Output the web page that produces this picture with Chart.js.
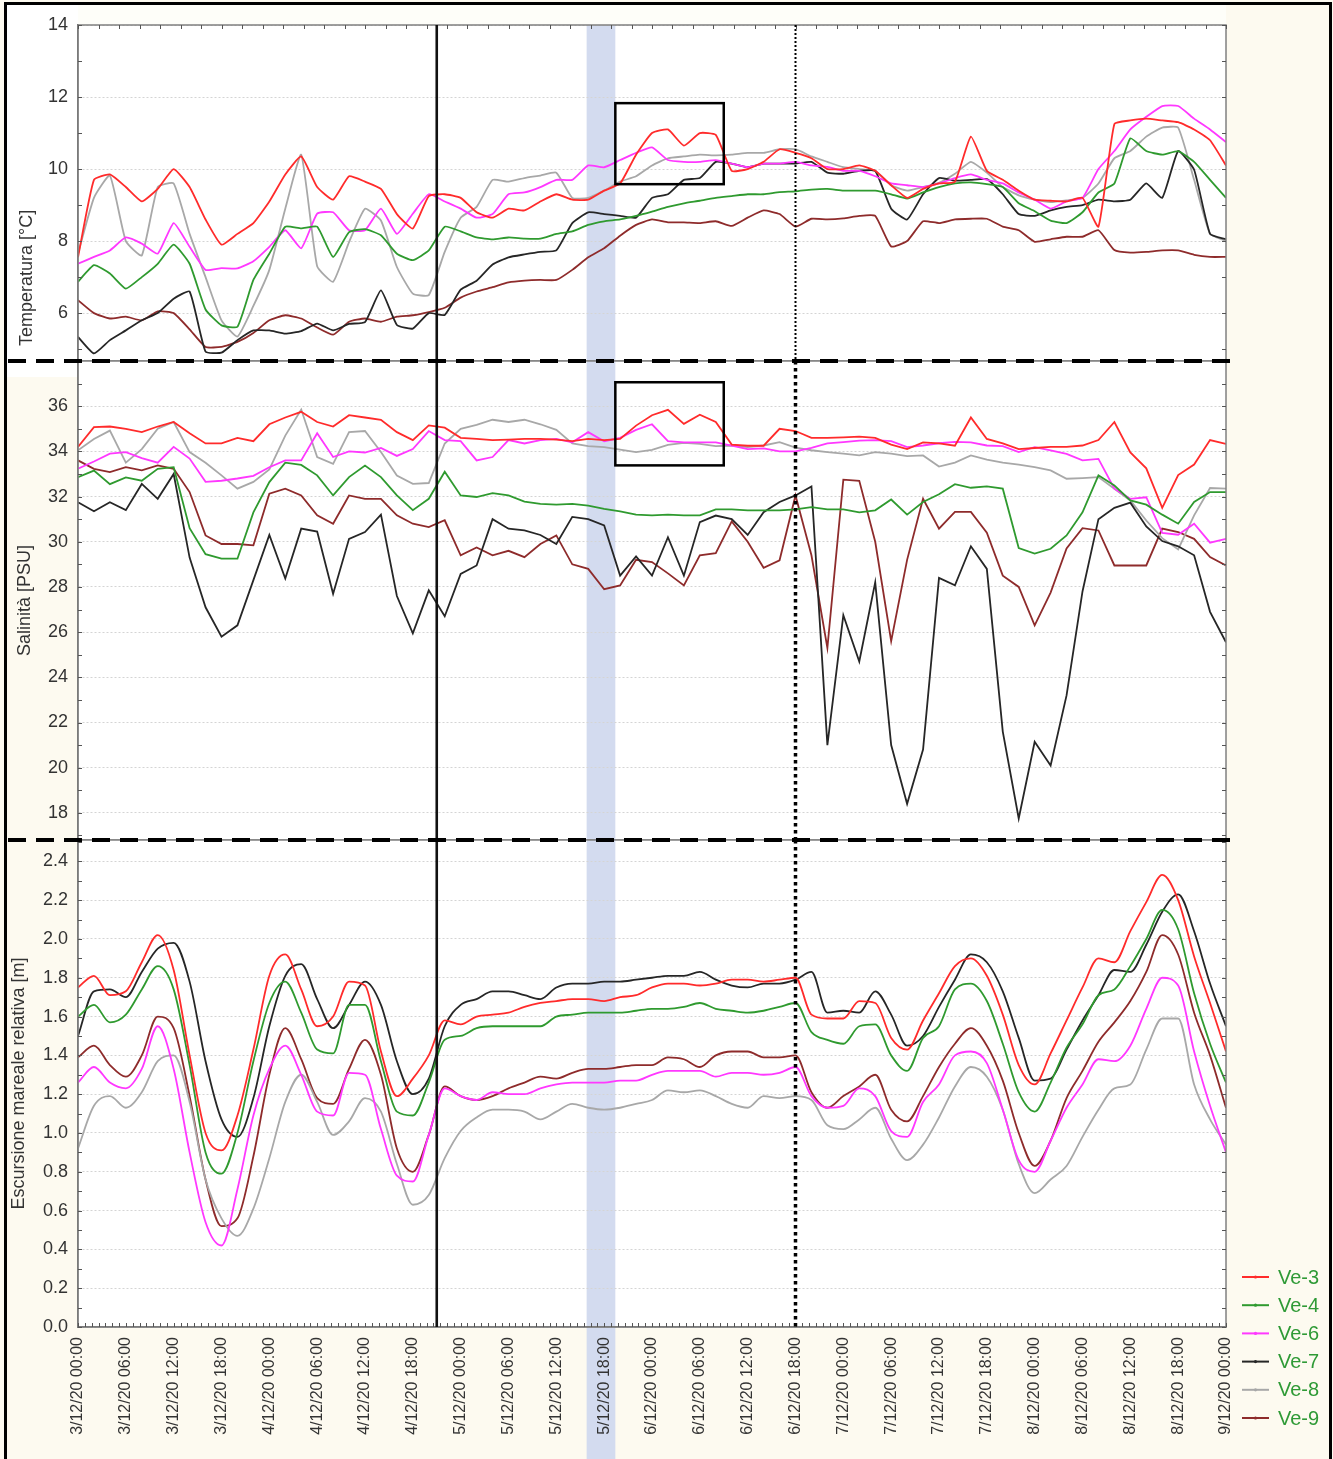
<!DOCTYPE html>
<html lang="it">
<head>
<meta charset="utf-8">
<title>Temperatura, salinità ed escursione mareale – Ve-3 … Ve-9</title>
<script src="https://cdn.jsdelivr.net/npm/chart.js@4.4.1/dist/chart.umd.min.js"></script>
<style>
  html, body { margin: 0; padding: 0; background: #fdfaf0; }
  #wrap { position: relative; width: 1333px; height: 1459px; overflow: hidden; background: #fdfaf0; }
  #wrap canvas { position: absolute; left: 0; top: 0; }
  #frame { position: absolute; left: 4px; top: 2px; width: 1322px; height: 1470px; border: 3px solid #000; pointer-events: none; }
</style>
</head>
<body>
<div id="wrap">
  <canvas id="cTemp" width="1333" height="1459"></canvas>
  <canvas id="cSal" width="1333" height="1459"></canvas>
  <canvas id="cTide" width="1333" height="1459"></canvas>
  <div id="frame"></div>
</div>
<script>
// ---- time axis: hours since 3/12/20 00:00 ----
const hours = [0,2,4,6,8,10,12,14,16,18,20,22,24,26,28,30,32,34,36,38,40,42,44,46,
  48,50,52,54,56,58,60,62,64,66,68,70,72,74,76,78,80,82,84,86,88,90,92,94,
  96,98,100,102,104,106,108,110,112,114,116,118,120,122,124,126,128,130,132,134,136,138,140,142,144];

const stations = ['Ve-3', 'Ve-4', 'Ve-6', 'Ve-7', 'Ve-8', 'Ve-9'];
const stationColors = ['#ff2b2b', '#2f9a2f', '#ff38ff', '#262626', '#a8a8a8', '#8e2b2b'];

// ---- Temperatura [°C] ----
const tempVe3 = [7.55,9.7,9.85,9.5,9.1,9.45,10.0,9.5,8.6,7.9,8.2,8.5,9.1,9.85,10.35,9.5,9.15,9.8,9.65,9.45,8.75,8.35,9.25,9.3,
  9.2,8.8,8.65,8.9,8.85,9.1,9.3,9.15,9.15,9.4,9.6,10.4,11.0,11.1,10.65,11.0,10.95,9.95,10.0,10.2,10.55,10.45,10.3,10.0,
  10.0,10.1,9.95,9.55,9.2,9.45,9.6,9.65,10.9,9.95,9.7,9.4,9.15,9.12,9.1,9.2,8.4,11.25,11.35,11.4,11.35,11.3,11.1,10.8,10.1];
const tempVe4 = [6.87,7.33,7.1,6.68,7.0,7.37,7.9,7.37,6.1,5.66,5.62,6.92,7.65,8.4,8.35,8.4,7.56,8.25,8.33,8.16,7.65,7.47,7.74,8.4,
  8.27,8.1,8.05,8.1,8.07,8.07,8.2,8.27,8.45,8.55,8.6,8.7,8.82,8.95,9.05,9.12,9.2,9.25,9.3,9.3,9.36,9.38,9.43,9.45,
  9.4,9.4,9.4,9.3,9.18,9.35,9.5,9.6,9.63,9.58,9.5,9.05,8.83,8.57,8.5,8.8,9.35,9.6,10.85,10.5,10.4,10.5,10.2,9.7,9.2];
const tempVe6 = [7.37,7.56,7.74,8.1,7.93,7.65,8.5,7.84,7.2,7.25,7.24,7.44,7.84,8.3,7.8,8.76,8.8,8.3,8.3,8.9,8.2,8.76,9.3,9.1,
  8.9,8.65,8.75,9.3,9.35,9.5,9.7,9.7,10.1,10.05,10.25,10.45,10.6,10.25,10.2,10.2,10.25,10.15,10.05,10.15,10.15,10.2,10.1,10.06,
  9.95,9.95,9.8,9.6,9.55,9.5,9.6,9.75,9.85,9.7,9.6,9.35,9.15,8.9,9.1,9.2,10.0,10.5,11.1,11.45,11.75,11.75,11.4,11.1,10.75];
const tempVe7 = [5.34,4.88,5.25,5.52,5.8,6.0,6.4,6.6,4.93,4.9,5.25,5.52,5.52,5.43,5.5,5.71,5.52,5.7,5.75,6.63,5.67,5.57,6.0,5.95,
  6.65,6.9,7.35,7.55,7.63,7.7,7.74,8.5,8.8,8.75,8.7,8.65,9.2,9.3,9.7,9.75,10.2,10.15,10.05,10.15,10.15,10.15,10.2,9.9,
  9.87,9.95,9.95,8.9,8.6,9.3,9.75,9.68,9.7,9.72,9.3,8.75,8.7,8.85,8.95,9.0,9.15,9.1,9.15,9.6,9.2,10.5,9.98,8.2,8.05];
const tempVe8 = [7.65,9.2,9.82,8.0,7.6,9.5,9.6,8.2,7.0,5.8,5.35,6.2,7.2,8.9,10.4,7.3,6.87,7.97,8.9,8.57,7.28,6.54,6.5,7.7,
  8.65,8.95,9.7,9.65,9.75,9.82,9.9,9.2,9.2,9.4,9.65,9.8,10.1,10.3,10.35,10.4,10.38,10.4,10.45,10.45,10.55,10.55,10.35,10.2,
  10.05,10.0,9.95,9.55,9.4,9.5,9.62,9.87,10.2,9.9,9.5,9.27,9.15,9.08,9.13,9.2,9.6,10.3,10.5,10.9,11.15,11.15,9.7,8.2,8.0];
const tempVe9 = [6.36,6.0,5.85,5.9,5.8,6.05,6.0,5.55,5.06,5.06,5.2,5.45,5.8,5.94,5.85,5.6,5.4,5.76,5.85,5.76,5.9,5.94,6.03,6.15,
  6.43,6.6,6.72,6.85,6.9,6.92,6.92,7.2,7.55,7.8,8.15,8.45,8.6,8.52,8.52,8.5,8.55,8.42,8.65,8.85,8.75,8.4,8.62,8.6,
  8.63,8.7,8.7,7.85,8.0,8.55,8.5,8.6,8.62,8.62,8.4,8.3,7.98,8.05,8.12,8.12,8.3,7.75,7.68,7.7,7.74,7.74,7.62,7.56,7.56];

// ---- Salinità [PSU] ----
const salVe3 = [34.2,35.07,35.1,35.0,34.85,35.1,35.3,34.8,34.35,34.35,34.6,34.45,35.2,35.5,35.75,35.3,35.1,35.6,35.5,35.4,34.85,34.5,35.15,35.05,
  34.6,34.55,34.5,34.52,34.55,34.55,34.52,34.45,34.55,34.5,34.55,35.14,35.6,35.84,35.22,35.62,35.3,34.3,34.25,34.25,35.0,34.9,34.6,34.6,
  34.62,34.65,34.6,34.3,34.1,34.4,34.35,34.25,35.5,34.55,34.35,34.1,34.15,34.2,34.2,34.26,34.5,35.3,33.95,33.25,31.5,32.95,33.42,34.5,34.33];
const salVe4 = [32.86,33.15,32.55,32.85,32.7,33.23,33.3,30.6,29.45,29.25,29.25,31.3,32.64,33.5,33.4,32.94,32.05,32.86,33.37,32.86,32.05,31.4,31.9,33.1,
  32.05,31.98,32.15,32.05,31.78,31.68,31.64,31.68,31.6,31.46,31.34,31.2,31.17,31.2,31.17,31.17,31.43,31.43,31.39,31.39,31.39,31.43,31.53,31.43,
  31.43,31.3,31.39,31.87,31.2,31.76,32.1,32.55,32.39,32.45,32.35,29.72,29.48,29.69,30.28,31.3,32.94,32.49,31.83,31.64,31.2,30.8,31.76,32.2,32.2];
const salVe6 = [33.23,33.55,33.9,33.97,33.7,33.5,34.2,33.68,32.65,32.7,32.8,32.92,33.3,33.6,33.6,34.8,33.75,34.0,33.95,34.15,33.8,34.1,34.9,34.5,
  34.45,33.6,33.75,34.5,34.35,34.5,34.55,34.4,34.85,34.45,34.6,34.95,35.2,34.45,34.4,34.4,34.4,34.25,34.1,34.13,34.0,34.0,34.15,34.35,
  34.41,34.48,34.5,34.45,34.19,34.26,34.36,34.42,34.4,34.26,34.23,33.97,34.19,34.04,33.89,33.6,33.67,32.35,31.9,31.97,30.39,30.31,30.8,29.96,30.13];
const salVe7 = [31.75,31.35,31.75,31.4,32.56,31.9,33.0,29.3,27.1,25.8,26.3,28.3,30.3,28.37,30.58,30.45,27.7,30.13,30.43,31.2,27.6,25.95,27.85,26.7,
  28.58,28.95,31.0,30.58,30.5,30.3,29.9,31.1,31.0,30.72,28.5,29.35,28.5,30.2,28.5,30.87,31.16,31.0,30.3,31.31,31.76,32.05,32.45,21.0,
  26.75,24.7,28.2,21.0,18.4,20.8,28.4,28.07,29.8,28.8,21.6,17.75,21.15,20.1,23.2,27.8,31.0,31.5,31.73,30.68,30.03,29.8,29.4,26.9,25.55];
const salVe8 = [34.05,34.55,34.92,33.5,34.1,35.0,35.3,33.97,33.5,32.94,32.35,32.65,33.2,34.7,35.85,33.75,33.45,34.85,34.9,33.97,32.93,32.56,32.6,34.35,
  35.0,35.17,35.4,35.3,35.4,35.2,34.95,34.35,34.23,34.19,34.08,33.97,34.07,34.29,34.38,34.33,34.23,34.26,34.19,34.26,34.41,34.17,34.05,33.97,
  33.9,33.82,33.97,33.9,33.79,33.82,33.33,33.5,33.82,33.64,33.5,33.41,33.3,33.16,32.79,32.82,32.86,32.35,31.83,30.94,30.16,29.66,31.17,32.38,32.35];
const salVe9 = [33.6,33.23,33.08,33.3,33.16,33.38,33.23,32.2,30.28,29.9,29.9,29.84,32.13,32.35,32.05,31.17,30.8,32.05,31.9,31.9,31.17,30.8,30.65,30.95,
  29.4,29.75,29.4,29.6,29.32,29.9,30.28,29.0,28.8,27.9,28.07,29.2,29.1,28.6,28.07,29.4,29.5,30.9,30.0,28.85,29.18,32.05,29.4,25.3,
  32.75,32.7,30.0,25.6,29.2,31.9,30.58,31.32,31.32,30.4,28.5,28.0,26.3,27.75,29.7,30.6,30.5,28.95,28.95,28.95,30.58,30.43,30.13,29.32,28.95];

// ---- Escursione mareale relativa [m] ----
const tideVe3 = [1.75,1.81,1.71,1.73,1.88,2.02,1.84,1.4,1.0,0.91,1.09,1.43,1.81,1.92,1.74,1.55,1.6,1.78,1.76,1.42,1.19,1.28,1.4,1.58,
  1.56,1.6,1.61,1.62,1.65,1.67,1.68,1.69,1.69,1.68,1.7,1.71,1.75,1.77,1.77,1.76,1.77,1.79,1.79,1.78,1.79,1.8,1.61,1.59,
  1.59,1.68,1.67,1.49,1.43,1.58,1.72,1.86,1.9,1.81,1.61,1.35,1.25,1.41,1.58,1.75,1.9,1.88,2.04,2.19,2.33,2.2,1.91,1.67,1.42];
const tideVe4 = [1.6,1.66,1.57,1.61,1.74,1.86,1.74,1.35,0.9,0.79,1.0,1.37,1.67,1.78,1.62,1.43,1.41,1.66,1.66,1.37,1.11,1.09,1.26,1.48,
  1.5,1.54,1.55,1.55,1.55,1.55,1.6,1.61,1.62,1.62,1.62,1.63,1.64,1.64,1.65,1.67,1.64,1.63,1.62,1.63,1.65,1.67,1.52,1.48,
  1.46,1.55,1.56,1.4,1.32,1.49,1.55,1.74,1.77,1.68,1.46,1.21,1.11,1.26,1.44,1.56,1.71,1.74,1.86,2.0,2.15,2.05,1.72,1.46,1.26];
const tideVe6 = [1.26,1.34,1.26,1.23,1.33,1.55,1.33,0.9,0.54,0.42,0.71,1.09,1.33,1.45,1.3,1.11,1.09,1.31,1.3,1.02,0.78,0.75,0.99,1.23,
  1.19,1.17,1.21,1.2,1.2,1.23,1.25,1.26,1.26,1.26,1.27,1.27,1.3,1.32,1.32,1.32,1.29,1.31,1.31,1.3,1.31,1.34,1.19,1.13,
  1.14,1.23,1.19,1.01,0.98,1.16,1.25,1.4,1.42,1.36,1.12,0.86,0.8,0.96,1.13,1.25,1.38,1.37,1.45,1.64,1.8,1.76,1.42,1.14,0.9];
const tideVe7 = [1.5,1.73,1.74,1.7,1.83,1.95,1.98,1.78,1.37,1.07,0.98,1.18,1.55,1.81,1.87,1.69,1.54,1.66,1.78,1.66,1.37,1.2,1.28,1.55,
  1.66,1.69,1.73,1.73,1.71,1.69,1.75,1.77,1.77,1.78,1.78,1.79,1.8,1.81,1.81,1.83,1.79,1.76,1.75,1.77,1.77,1.79,1.83,1.62,
  1.63,1.62,1.73,1.61,1.45,1.5,1.65,1.79,1.92,1.88,1.73,1.49,1.27,1.28,1.43,1.58,1.71,1.84,1.83,1.97,2.14,2.23,2.04,1.77,1.55];
const tideVe8 = [0.92,1.14,1.19,1.13,1.21,1.37,1.4,1.16,0.76,0.56,0.47,0.61,0.87,1.16,1.3,1.16,0.99,1.06,1.18,1.11,0.84,0.63,0.68,0.87,
  1.01,1.08,1.12,1.12,1.11,1.07,1.11,1.15,1.13,1.12,1.13,1.15,1.17,1.22,1.21,1.22,1.19,1.15,1.13,1.19,1.18,1.19,1.17,1.04,
  1.02,1.07,1.13,0.97,0.86,0.94,1.08,1.24,1.34,1.29,1.12,0.84,0.69,0.76,0.83,0.98,1.12,1.23,1.25,1.43,1.59,1.59,1.25,1.07,0.94];
const tideVe9 = [1.39,1.45,1.35,1.29,1.4,1.6,1.54,1.19,0.76,0.52,0.56,0.88,1.3,1.54,1.38,1.18,1.15,1.33,1.48,1.3,0.92,0.8,0.99,1.24,
  1.19,1.17,1.19,1.23,1.26,1.29,1.28,1.31,1.33,1.33,1.34,1.35,1.35,1.39,1.38,1.34,1.4,1.42,1.42,1.39,1.39,1.4,1.21,1.13,
  1.19,1.24,1.3,1.12,1.06,1.19,1.34,1.46,1.54,1.45,1.27,1.0,0.83,0.96,1.18,1.32,1.47,1.57,1.68,1.83,2.02,1.92,1.62,1.4,1.13];

// ---- axis ticks ----
const xTickHours = [0,6,12,18,24,30,36,42,48,54,60,66,72,78,84,90,96,102,108,114,120,126,132,138,144];
const xTickLabels = ['3/12/20 00:00','3/12/20 06:00','3/12/20 12:00','3/12/20 18:00',
  '4/12/20 00:00','4/12/20 06:00','4/12/20 12:00','4/12/20 18:00',
  '5/12/20 00:00','5/12/20 06:00','5/12/20 12:00','5/12/20 18:00',
  '6/12/20 00:00','6/12/20 06:00','6/12/20 12:00','6/12/20 18:00',
  '7/12/20 00:00','7/12/20 06:00','7/12/20 12:00','7/12/20 18:00',
  '8/12/20 00:00','8/12/20 06:00','8/12/20 12:00','8/12/20 18:00','9/12/20 00:00'];
const tempTicks = [6, 8, 10, 12, 14];
const salTicks = [18, 20, 22, 24, 26, 28, 30, 32, 34, 36];
const tideTicks = [0, 0.2, 0.4, 0.6, 0.8, 1.0, 1.2, 1.4, 1.6, 1.8, 2.0, 2.2, 2.4];

// ---- event markers (hours) ----
const eventHours = [45, 90];          // solid line, dotted line
const bandHours = [63.8, 67.4];       // shaded interval
const tempBox = [67.4, 81.0, 9.58, 11.83];   // h0, h1, y0, y1
const salBox = [67.4, 81.0, 33.38, 37.06];

Chart.defaults.font.family = "'Liberation Sans', Arial, Helvetica, sans-serif";
Chart.defaults.color = '#333';

function seg(ctx, x0, y0, x1, y1) { ctx.beginPath(); ctx.moveTo(x0, y0); ctx.lineTo(x1, y1); ctx.stroke(); }

const panelDecor = {
  id: 'panelDecor',
  beforeDraw(chart, _args, o) {
    const { ctx, chartArea: a, scales: { x } } = chart;
    ctx.save();
    (o.fills || []).forEach(f => { ctx.fillStyle = f.c; ctx.fillRect(f.r[0], f.r[1], f.r[2], f.r[3]); });
    ctx.fillStyle = '#ffffff';
    ctx.fillRect(a.left, a.top, a.right - a.left, a.bottom - a.top);
    const b0 = x.getPixelForValue(bandHours[0]), b1 = x.getPixelForValue(bandHours[1]);
    const bBottom = o.bandToEdge ? chart.height : a.bottom;
    ctx.fillStyle = '#d3dbef';
    ctx.fillRect(b0, a.top, b1 - b0, bBottom - a.top);
    ctx.restore();
  },
  afterDatasetsDraw(chart, _args, o) {
    const { ctx, chartArea: a, scales: { x, y } } = chart;
    ctx.save();
    // plot frame
    ctx.strokeStyle = '#808080'; ctx.lineWidth = 1.5;
    ctx.strokeRect(a.left, a.top, a.right - a.left, a.bottom - a.top);
    // small inward ticks on both vertical borders
    ctx.strokeStyle = '#555'; ctx.lineWidth = 1;
    const k0 = Math.ceil(y.min / o.minorStep - 1e-6), k1 = Math.floor(y.max / o.minorStep + 1e-6);
    for (let k = k0; k <= k1; k++) {
      const py = Math.round(y.getPixelForValue(k * o.minorStep)) + 0.5;
      seg(ctx, a.left, py, a.left + 4, py);
      seg(ctx, a.right - 4, py, a.right, py);
    }
    if (o.topTicks) {
      for (let k = 0; k <= o.topTicks; k++) {
        const px = Math.round(x.getPixelForValue(k * 144 / o.topTicks)) + 0.5;
        seg(ctx, px, a.top, px, a.top + 4);
      }
    }
    if (o.bottomTicks) {
      for (let k = 0; k <= o.bottomTicks; k++) {
        const px = Math.round(x.getPixelForValue(k * 144 / o.bottomTicks)) + 0.5;
        seg(ctx, px, a.bottom, px, a.bottom - 4);
      }
    }
    // event lines
    const xs = x.getPixelForValue(eventHours[0]);
    ctx.strokeStyle = '#111'; ctx.lineWidth = 2.6; ctx.setLineDash([]);
    seg(ctx, xs, a.top, xs, a.bottom);
    const xd = x.getPixelForValue(eventHours[1]);
    ctx.strokeStyle = '#000'; ctx.lineWidth = o.dotWidth; ctx.setLineDash(o.dotDash);
    seg(ctx, xd, a.top, xd, a.bottom);
    ctx.setLineDash([]);
    // highlighted window
    if (o.box) {
      const bx0 = x.getPixelForValue(o.box[0]), bx1 = x.getPixelForValue(o.box[1]);
      const by0 = y.getPixelForValue(o.box[2]), by1 = y.getPixelForValue(o.box[3]);
      ctx.strokeStyle = '#000'; ctx.lineWidth = 2.5;
      ctx.strokeRect(bx0, by1, bx1 - bx0, by0 - by1);
    }
    // dashed separator above the panel
    if (o.separator) {
      ctx.strokeStyle = '#000'; ctx.lineWidth = 4; ctx.setLineDash([18, 10]);
      seg(ctx, 8, a.top, a.right + 6, a.top);
      ctx.setLineDash([]);
    }
    ctx.restore();
  }
};

const stationLegend = {
  id: 'stationLegend',
  afterDraw(chart) {
    const { ctx, chartArea: a } = chart;
    ctx.save();
    ctx.font = "20px 'Liberation Sans', Arial, sans-serif";
    ctx.textBaseline = 'middle';
    ctx.textAlign = 'left';
    stations.forEach((name, i) => {
      const yy = a.bottom - 50 + i * 28.2;
      ctx.strokeStyle = stationColors[i]; ctx.lineWidth = 2;
      seg(ctx, a.right + 16, yy, a.right + 43, yy);
      ctx.fillStyle = stationColors[i];
      ctx.beginPath(); ctx.arc(a.right + 29.5, yy, 1.6, 0, Math.PI * 2); ctx.fill();
      ctx.fillStyle = '#2f9a36';
      ctx.fillText(name, a.right + 52, yy + 1);
    });
    ctx.restore();
  }
};

function makePanel(canvasId, cfg) {
  const datasets = cfg.values.map((vals, i) => ({
    label: stations[i],
    data: vals.map((v, k) => ({ x: hours[k], y: v })),
    borderColor: stationColors[i],
    backgroundColor: stationColors[i],
    borderWidth: 1.8,
    pointRadius: 0,
    tension: cfg.tension,
    cubicInterpolationMode: cfg.monotone ? 'monotone' : 'default'
  }));
  const xScale = cfg.showX ? {
    type: 'linear', min: 0, max: 144, bounds: 'data',
    afterBuildTicks: s => { s.ticks = xTickHours.map(v => ({ value: v })); },
    afterFit: s => { s.height = 132; },
    ticks: { autoSkip: false, maxRotation: 90, minRotation: 90, padding: 10,
             font: { size: 16 }, color: '#333', callback: (v, i) => xTickLabels[i] },
    grid: { display: false, drawTicks: false },
    border: { display: true, color: '#6b6b6b', width: 1.5 }
  } : { type: 'linear', min: 0, max: 144, display: false };
  return new Chart(document.getElementById(canvasId), {
    type: 'line',
    data: { datasets },
    options: {
      responsive: false,
      animation: false,
      events: [],
      layout: { padding: cfg.padding },
      plugins: { legend: { display: false }, tooltip: { enabled: false }, panelDecor: cfg.decor },
      scales: {
        x: xScale,
        y: {
          type: 'linear', min: cfg.min, max: cfg.max, bounds: 'data',
          afterBuildTicks: s => { s.ticks = cfg.ticks.map(v => ({ value: v })); },
          afterFit: s => { s.width = 70; },
          ticks: { font: { size: 18 }, color: '#333', padding: 10, callback: cfg.fmt },
          grid: { color: '#d4d4d4', lineWidth: 1, drawTicks: false },
          border: { display: true, color: '#6b6b6b', width: 1.5, dash: [2, 2] },
          title: { display: true, text: cfg.title, color: '#333', font: { size: 18 },
                   align: cfg.titleAlign, padding: { top: cfg.titlePad, bottom: 0 } }
        }
      }
    },
    plugins: [panelDecor].concat(cfg.extra || [])
  });
}

makePanel('cTemp', {
  values: [tempVe3, tempVe4, tempVe6, tempVe7, tempVe8, tempVe9],
  min: 4.67, max: 14, ticks: tempTicks, fmt: v => String(v),
  title: '\u00a0\u00a0\u00a0Temperatura [°C]', titleAlign: 'start', titlePad: 8,
  tension: 0.15, padding: { top: 25, bottom: 1098, left: 8, right: 107 },
  decor: { minorStep: 1, topTicks: 56, dotWidth: 2, dotDash: [2, 2], box: tempBox,
           fills: [{ c: '#ffffff', r: [7, 5, 71, 356] }, { c: '#fefef9', r: [78, 5, 1148, 20] }] }
});

makePanel('cSal', {
  values: [salVe3, salVe4, salVe6, salVe7, salVe8, salVe9],
  min: 16.8, max: 38, ticks: salTicks, fmt: v => String(v),
  title: 'Salinità [PSU]', titleAlign: 'center', titlePad: 6,
  tension: 0, padding: { top: 361, bottom: 619, left: 8, right: 107 },
  decor: { minorStep: 1, dotWidth: 3.5, dotDash: [3.5, 3.5], box: salBox, separator: true,
           fills: [{ c: '#ffffff', r: [7, 361, 71, 16] }] }
});

makePanel('cTide', {
  values: [tideVe3, tideVe4, tideVe6, tideVe7, tideVe8, tideVe9],
  min: 0, max: 2.51, ticks: tideTicks, fmt: v => v.toFixed(1),
  title: 'Escursione mareale relativa [m]', titleAlign: 'center', titlePad: 0,
  tension: 0.4, monotone: true, showX: true,
  padding: { top: 840, bottom: 0, left: 8, right: 107 },
  decor: { minorStep: 0.1, bottomTicks: 168, dotWidth: 3.5, dotDash: [3.5, 3.5],
           separator: true, bandToEdge: true },
  extra: [stationLegend]
});
</script>
</body>
</html>
